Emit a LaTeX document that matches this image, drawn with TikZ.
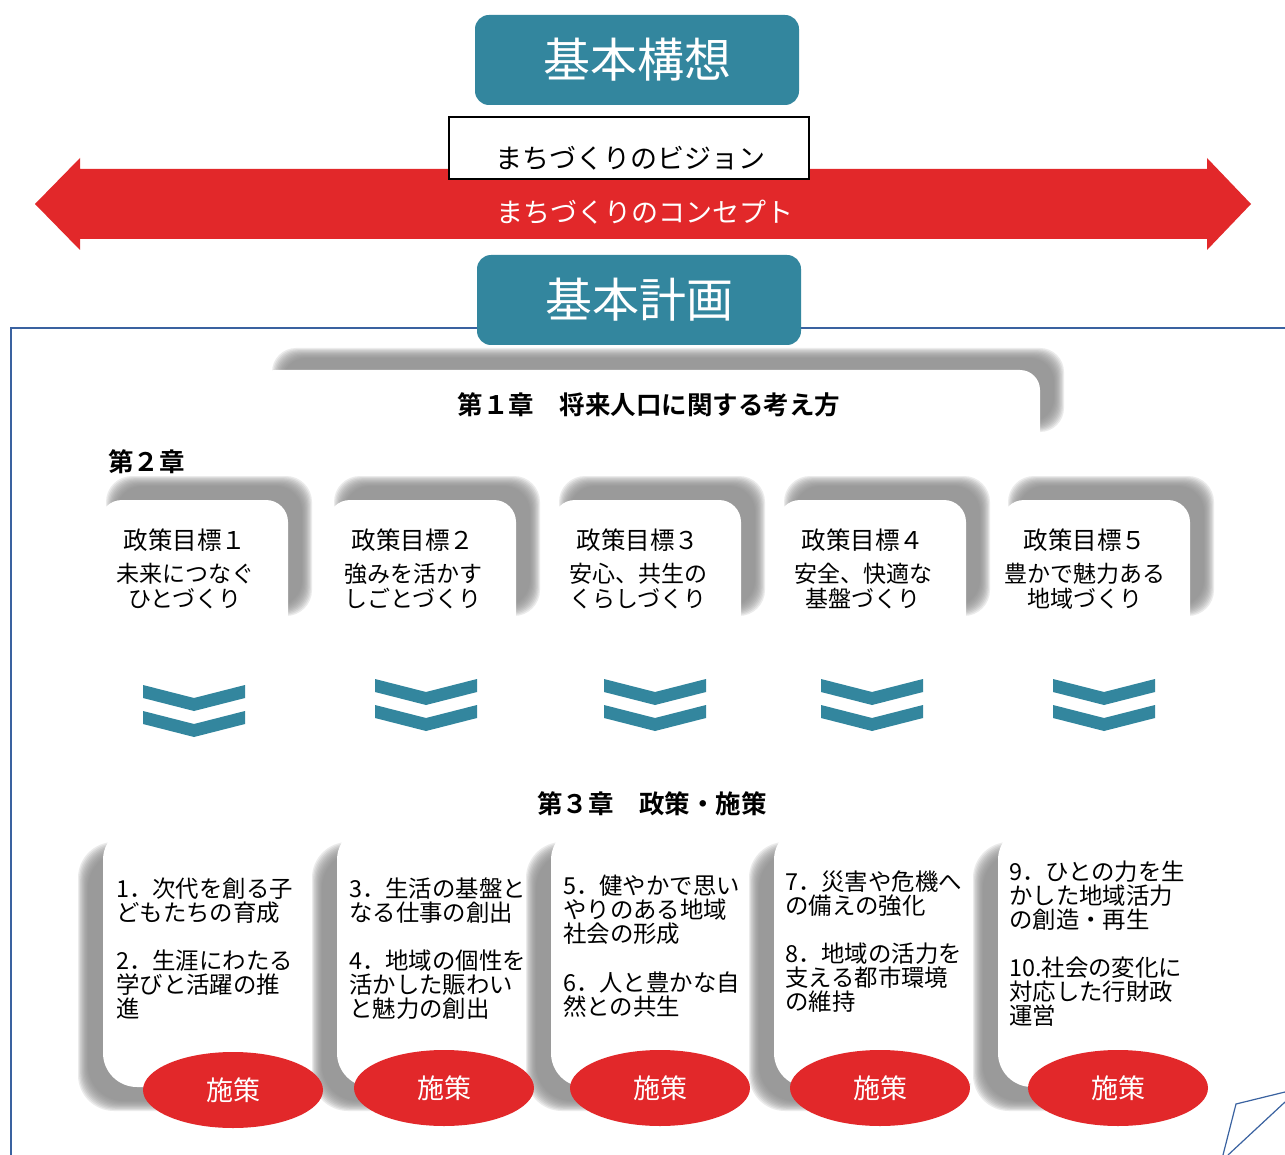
\documentclass[tikz,border=0pt]{standalone}
\usepackage{fontspec}
\setmainfont{Noto Sans CJK JP}[BoldFont={Noto Sans CJK JP Bold}]
\usetikzlibrary{calc,shapes.geometric}
\definecolor{kteal}{HTML}{33869E}
\definecolor{kred}{HTML}{E2282A}
\definecolor{kblue}{HTML}{3A62A0}
\definecolor{kshadow}{HTML}{8A8A8A}
\newcommand\softshadow[3]{%
  \foreach \i in {0,...,9}{%
    \fill[kshadow,opacity=0.165,rounded corners=#3] ($(#1)+(\i*1.1,\i*1.1)$) rectangle ($(#2)-(\i*1.1,\i*1.1)$);
  }}
\newcommand\chev[2]{%
  \fill[kteal] (#1-51,#2) -- (#1,#2+13) -- (#1+51,#2) -- (#1+51,#2+13) -- (#1,#2+26) -- (#1-51,#2+13) -- cycle;
  \fill[kteal] (#1-51,#2+26) -- (#1,#2+39) -- (#1+51,#2+26) -- (#1+51,#2+39) -- (#1,#2+52) -- (#1-51,#2+39) -- cycle;}
\tikzset{
  titlebox/.style={rectangle, fill=kteal, rounded corners=14pt, text=white, inner sep=0,
    minimum width=324pt, minimum height=90pt, font=\fontsize{47}{50}\selectfont},
  chaptext/.style={inner sep=0, anchor=base, font=\bfseries\fontsize{25.5}{28}\selectfont},
  goaltitle/.style={inner sep=0, anchor=base, font=\fontsize{24.5}{26}\selectfont},
  goalsub/.style={inner sep=0, anchor=base, font=\fontsize{23}{25}\selectfont},
  itemtext/.style={inner sep=0, anchor=north west, align=left, font=\fontsize{23.4}{24}\selectfont},
  sakubox/.style={ellipse, fill=kred, text=white, inner sep=0, minimum width=180pt,
    minimum height=76pt, font=\fontsize{27}{30}\selectfont},
  frameline/.style={draw=kblue, line width=1.3pt},
}
\begin{document}
\begin{tikzpicture}[x=1pt,y=-1pt]
\useasboundingbox (0,0) rectangle (1285,1155);
\fill[white] (0,0) rectangle (1285,1155);

% frame
\coordinate (fA) at (11,1155);
\coordinate (fB) at (11,328);
\coordinate (fC) at (1285,328);
\draw[frameline] (fA) -- (fB) -- (fC);

% red double arrow
\fill[kred] (35,204) -- (80,158) -- (80,169) -- (1207,169) -- (1207,158) -- (1251,204)
  -- (1207,250) -- (1207,239) -- (80,239) -- (80,250) -- cycle;
\node[inner sep=0, text=white, font=\fontsize{27}{30}\selectfont] (concept) at (645,212) {まちづくりのコンセプト};

% vision box
\node[rectangle, draw=black, line width=1.3pt, fill=white, minimum width=360pt, minimum height=62pt, inner sep=0] (visionbox) at (629,148) {};
\node[inner sep=0, font=\fontsize{27}{30}\selectfont] (vision) at (630,158) {まちづくりのビジョン};

% title boxes
\node[titlebox] (kousou) at (637,60) {基本構想};
\node[titlebox] (keikaku) at (639,300) {基本計画};

% chapter 1 box
\softshadow{272,348}{1064,432}{24}
\fill[white, rounded corners=20] (255,370) rectangle (1040,465);
\node[chaptext] (ch1) at (649,414) {第１章　将来人口に関する考え方};

\node[chaptext, anchor=base west] (ch2) at (108,471) {第２章};

% goal boxes
\foreach \k/\bx/\cx/\num/\la/\lb in {1/100/185/１/未来につなぐ/ひとづくり, 2/328/413/２/強みを活かす/しごとづくり, 3/553/638/３/安心、共生の/くらしづくり, 4/778/863/４/安全、快適な/基盤づくり, 5/1002/1085/５/豊かで魅力ある/地域づくり}{
  \softshadow{\bx+6,476}{\bx+212,616}{26}
  \fill[white, rounded corners=22] (\bx,500) rectangle (\bx+188,650);
  \node[goaltitle] (goal\k) at (\cx,549) {政策目標\num};
  \node[goalsub] (goalA\k) at (\cx,582) {\la};
  \node[goalsub] (goalB\k) at (\cx,607) {\lb};
}

% chevrons
\chev{194}{685}
\chev{426}{679}
\chev{655}{679}
\chev{872}{679}
\chev{1104}{679}

\node[chaptext] (ch3) at (652,813) {第３章　政策・施策};

% bottom boxes
\foreach \bx in {103,337,551,774,998}{
  \softshadow{\bx-25,842}{\bx+198,1111}{36}
  \fill[white, rounded corners=34] (\bx,826) rectangle (\bx+215,1087);
}

\node[itemtext] (it1) at (116,878) {1．次代を創る子\\どもたちの育成\\[24pt]2．生涯にわたる\\学びと活躍の推\\進};
\node[itemtext] (it2) at (349,878) {3．生活の基盤と\\なる仕事の創出\\[24pt]4．地域の個性を\\活かした賑わい\\と魅力の創出};
\node[itemtext] (it3) at (563,875) {5．健やかで思い\\やりのある地域\\社会の形成\\[25pt]6．人と豊かな自\\然との共生};
\node[itemtext] (it4) at (785,871) {7．災害や危機へ\\の備えの強化\\[24pt]8．地域の活力を\\支える都市環境\\の維持};
\node[itemtext] (it5) at (1009,861) {9．ひとの力を生\\かした地域活力\\の創造・再生\\[24pt]10.社会の変化に\\対応した行財政\\運営};

% ellipses
\node[sakubox] (s1) at (233,1090) {施策};
\node[sakubox] (s2) at (444,1088) {施策};
\node[sakubox] (s3) at (660,1088) {施策};
\node[sakubox] (s4) at (880,1088) {施策};
\node[sakubox] (s5) at (1118,1088) {施策};

% corner fragment
\coordinate (cA) at (1223,1155);
\coordinate (cB) at (1236,1104);
\coordinate (cC) at (1285,1092);
\coordinate (cD) at (1228,1155);
\coordinate (cE) at (1285,1102);
\draw[kblue, line width=1.2pt] (cA) -- (cB) -- (cC);
\draw[kblue, line width=1.2pt] (cD) -- (cE);
\end{tikzpicture}
\end{document}
